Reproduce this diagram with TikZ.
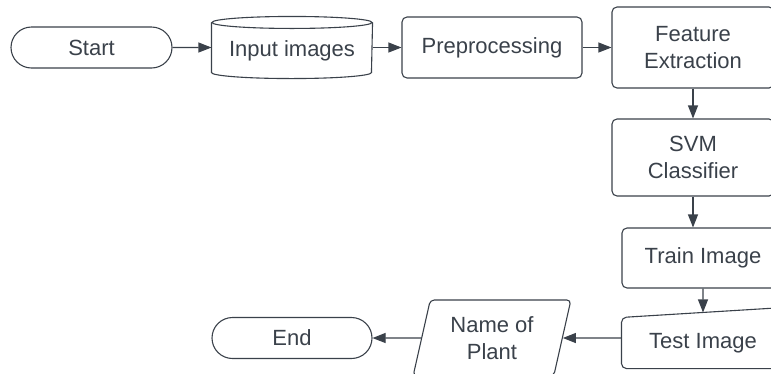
\documentclass[tikz,border=0pt]{standalone}
\usepackage{fontspec}
\setmainfont{Liberation Sans}
\usetikzlibrary{arrows.meta, shapes.geometric, shapes.misc, calc}
\definecolor{inkgray}{HTML}{3A414A}

\begin{document}
\begin{tikzpicture}[x=1pt, y=1pt, color=inkgray, line width=1.1pt,
	font=\fontsize{22}{27}\selectfont,
	every node/.style={align=center, inner sep=0pt},
	box/.style={draw, rounded corners=5pt, minimum width=162pt},
	terminal/.style={draw, rounded rectangle, minimum width=161pt, minimum height=41pt},
	arr/.style={-{Triangle[length=13pt, width=10pt]}}]
		\useasboundingbox (0,0) rectangle (771,-373);
		\clip (0,0) rectangle (771,-373);
		
		% Top row
		\node[terminal] (start) at (91.5,-47.5) {Start};
		\node[minimum width=160pt, minimum height=55pt] (input) at (292,-50.5) {Input images};
		\draw (input.north) ellipse [x radius=80pt, y radius=6pt];
		\draw (input.north west) -- ([yshift=6pt]input.south west)
			arc[start angle=180, end angle=360, x radius=80pt, y radius=6pt] -- (input.north east);
		\node[box, minimum width=180pt, minimum height=61pt] (pre) at (492,-47.5) {Preprocessing};
		\node[box, minimum height=81pt] (feat) at (693,-47.5) {Feature\\Extraction};
		
		% Right column
		\node[box, minimum height=77pt] (svm) at (693,-157.5) {SVM\\Classifier};
		\node[box, minimum height=60pt] (train) at (703,-258) {Train Image};
		\node[minimum width=162pt, minimum height=50pt] (test) at (703,-343) {Test Image};
		\draw[rounded corners=5pt] (test.west) -- (test.north west) -- ([yshift=10pt]test.north east)
			-- (test.south east) -- (test.south west) -- cycle;
		\coordinate (testtop) at ($(test.north west)!0.5!([yshift=10pt]test.north east)$);
		
		% Bottom row
		\node[draw, trapezium, trapezium left angle=75, trapezium right angle=105, trapezium stretches=true,
			rounded corners=4pt, minimum width=158pt, minimum height=76pt] (plant) at (492,-338) {Name of\\Plant};
		\node[terminal, minimum width=160pt] (end) at (292,-338) {End};
		
		% Connectors
		\draw[arr] (start) -- (start -| input.west);
		\draw[arr] (input.east |- pre) -- (pre);
		\draw[arr] (pre) -- (feat);
		\draw[arr] (feat) -- (svm);
		\draw[arr] (svm.south) -- (svm.south |- train.north);
		\draw[arr] (train.south) -- (testtop);
		\draw[arr] (test.west |- plant) -- (plant.east);
		\draw[arr] (plant.west) -- (end.east);
		
	\end{tikzpicture}
\end{document}
